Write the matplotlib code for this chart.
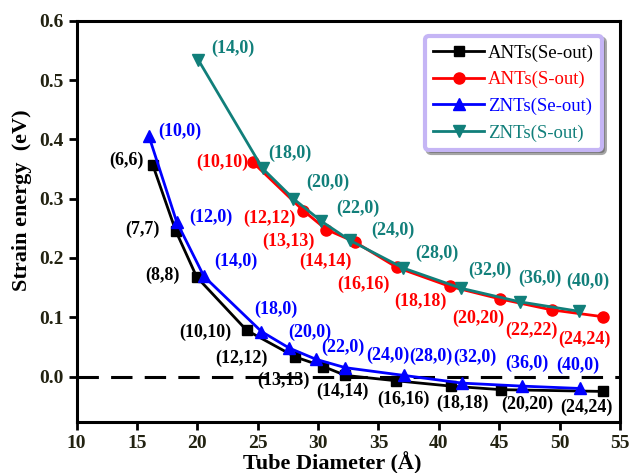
import matplotlib
matplotlib.use("Agg")
import matplotlib.pyplot as plt

plt.rcParams['font.family'] = ['Liberation Serif', 'DejaVu Serif']

# ANTs (Se-out)
ant_se_d = [16.31, 18.21, 19.95, 24.09, 28.13, 30.43, 32.27, 36.45, 40.98, 45.14, 53.56]
ant_se_e = [0.357, 0.246, 0.168, 0.078, 0.033, 0.017, 0.002, -0.007, -0.016, -0.022, -0.025]
ant_se_lab = ["(6,6)", "(7,7)", "(8,8)", "(10,10)", "(12,12)", "(13,13)", "(14,14)",
              "(16,16)", "(18,18)", "(20,20)", "(24,24)"]

# ANTs (S-out)
ant_s_d = [24.61, 28.77, 30.68, 33.05, 36.53, 40.92, 45.06, 49.34, 53.56]
ant_s_e = [0.361, 0.280, 0.248, 0.227, 0.184, 0.152, 0.131, 0.1125, 0.101]
ant_s_lab = ["(10,10)", "(12,12)", "(13,13)", "(14,14)", "(16,16)", "(18,18)",
             "(20,20)", "(22,22)", "(24,24)"]

# ZNTs (Se-out)
znt_se_d = [16.00, 18.29, 20.55, 25.31, 27.62, 29.85, 32.27, 37.11, 41.94, 46.85, 51.68]
znt_se_e = [0.405, 0.261, 0.169, 0.076, 0.048, 0.029, 0.015, 0.002, -0.011, -0.016, -0.020]
znt_se_lab = ["(10,0)", "(12,0)", "(14,0)", "(18,0)", "(20,0)", "(22,0)", "(24,0)",
              "(28,0)", "(32,0)", "(36,0)", "(40,0)"]

# ZNTs (S-out)
znt_s_d = [20.08, 25.40, 27.95, 30.27, 32.64, 37.05, 41.83, 46.71, 51.62]
znt_s_e = [0.534, 0.351, 0.300, 0.262, 0.2297, 0.183, 0.149, 0.126, 0.110]
znt_s_lab = ["(14,0)", "(18,0)", "(20,0)", "(22,0)", "(24,0)", "(28,0)", "(32,0)",
             "(36,0)", "(40,0)"]

# label offsets in pixels (dx, dy)
off_ant_se = [(-26, 5), (-33, 1), (-34, 2), (-41, -2), (-54, -1), (-40, -14), (-3, -16),
              (7, -19), (12, -17), (26, -15), (-16, -16)]
off_ant_s = [(-31, 0), (-34, -8), (-38, -12), (-29, -19), (-34, -17), (-30, -15),
             (-22, -19), (-20, -20), (-18, -23)]
off_znt_se = [(31, 5), (34, 4), (32, 15), (14, 22), (20, 16), (27, 12), (42, 12),
              (27, 19), (13, 26), (5, 23), (-2, 23)]
off_znt_s = [(35, 12), (27, 15), (34, 16), (37, 13), (43, 10), (34, 15), (29, 18),
             (20, 24), (9, 30)]

teal = '#117f7a'

fig = plt.figure(figsize=(6.33, 4.73), dpi=100)
ax = fig.add_axes([0.1209, 0.1085, 0.8586, 0.8477])

ax.axhline(0, color='black', lw=2.2, ls=(0, (7, 4)), zorder=1)

series = [
    (ant_se_d, ant_se_e, ant_se_lab, off_ant_se, 'black', 's', 7, "ANTs(Se-out)"),
    (ant_s_d, ant_s_e, ant_s_lab, off_ant_s, 'red', 'o', 8, "ANTs(S-out)"),
    (znt_se_d, znt_se_e, znt_se_lab, off_znt_se, 'blue', '^', 9, "ZNTs(Se-out)"),
    (znt_s_d, znt_s_e, znt_s_lab, off_znt_s, teal, 'v', 9, "ZNTs(S-out)"),
]

for d, e, labs, offs, c, m, ms, name in series:
    ax.plot(d, e, color=c, marker=m, ms=ms, lw=2, label=name, zorder=2)
    for xi, yi, lab, (dx, dy) in zip(d, e, labs, offs):
        ax.annotate(lab, (xi, yi), xytext=(dx, dy), textcoords='offset pixels',
                    ha='center', va='center', color=c, fontsize=13,
                    fontweight='bold', zorder=3)

ax.set_xlim(10, 55)
ax.set_ylim(-0.076, 0.6)
ax.set_xticks(range(10, 56, 5))
ax.set_yticks([0.0, 0.1, 0.2, 0.3, 0.4, 0.5, 0.6])
ax.set_yticklabels(["0.0", "0.1", "0.2", "0.3", "0.4", "0.5", "0.6"])
for sp in ax.spines.values():
    sp.set_linewidth(2.2)
ax.tick_params(direction='out', length=6, width=2, labelsize=14)
for t in ax.get_xticklabels() + ax.get_yticklabels():
    t.set_fontweight('bold')
    t.set_color('#222211')

ax.set_xlabel("Tube Diameter (Å)", fontsize=16, fontweight='bold')
ax.set_ylabel("Strain energy  (eV)", fontsize=16, fontweight='bold')
ax.xaxis.set_label_coords(0.47, -0.075)
ax.yaxis.set_label_coords(-0.082, 0.553)

leg = ax.legend(loc='upper right', bbox_to_anchor=(0.967, 0.962), borderaxespad=0,
                fontsize=13.5, handlelength=2.7, labelcolor='linecolor', fancybox=True,
                shadow=True, edgecolor='#c5b5f5', framealpha=1, labelspacing=0.5,
                handletextpad=0.2, borderpad=0.45)
leg.get_frame().set_linewidth(3)

fig.savefig("out.png", dpi=100)
